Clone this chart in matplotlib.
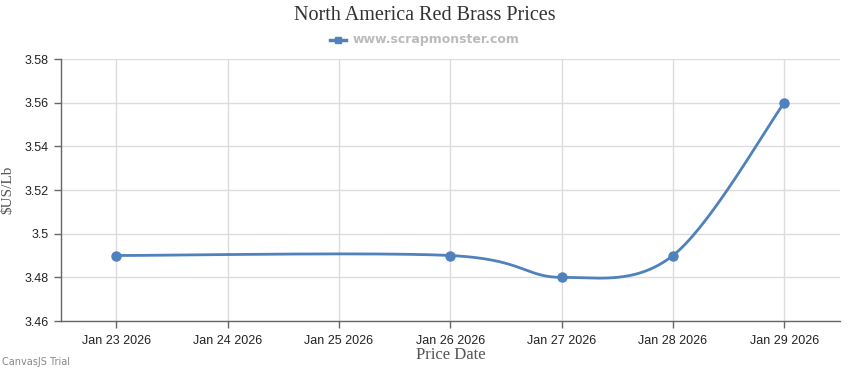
import numpy as np
import matplotlib
matplotlib.use('Agg')
import matplotlib.pyplot as plt
from matplotlib.lines import Line2D

# data
days = [0, 3, 4, 5, 6]  # offset from Jan 23 2026
prices = [3.49, 3.49, 3.48, 3.49, 3.56]
tick_days = [0, 1, 2, 3, 4, 5, 6]
tick_labels = ['Jan 23 2026', 'Jan 24 2026', 'Jan 25 2026', 'Jan 26 2026',
               'Jan 27 2026', 'Jan 28 2026', 'Jan 29 2026']
y_ticks = [3.46, 3.48, 3.50, 3.52, 3.54, 3.56, 3.58]

line_color = '#4F81BC'


def spline(xs, ys, n=60):
    # catmull-rom style bezier through the points, like a canvas spline
    pts = np.column_stack([xs, ys]).astype(float)
    out = []
    last = len(pts) - 1
    for i in range(last):
        p0 = pts[max(i - 1, 0)]
        p1 = pts[i]
        p2 = pts[i + 1]
        p3 = pts[min(i + 2, last)]
        c1 = p1 + (p2 - p0) / 6.0
        c2 = p2 - (p3 - p1) / 6.0
        t = np.linspace(0, 1, n)[:, None]
        seg = ((1 - t) ** 3) * p1 + 3 * ((1 - t) ** 2) * t * c1 + 3 * (1 - t) * t ** 2 * c2 + t ** 3 * p2
        out.append(seg)
    out = np.vstack(out)
    return out[:, 0], out[:, 1]


fig = plt.figure(figsize=(8.5, 3.7), dpi=100)
ax = fig.add_axes([0.0718, 0.1324, 0.9164, 0.7081])

sx, sy = spline(days, prices)
ax.plot(sx, sy, color=line_color, lw=2, zorder=3)
ax.plot(days, prices, 'o', color=line_color, ms=6.5, zorder=4)

ax.set_xlim(-0.495, 6.5)
ax.set_ylim(3.46, 3.58)
ax.set_xticks(tick_days)
ax.set_xticklabels(tick_labels)
ax.set_yticks(y_ticks)
ax.set_yticklabels(['%g' % v for v in y_ticks])

ax.grid(True, color='#dcdcdc', lw=1)
ax.set_axisbelow(True)
for s in ['top', 'right']:
    ax.spines[s].set_visible(False)
for s in ['left', 'bottom']:
    ax.spines[s].set_color('#666666')
    ax.spines[s].set_linewidth(1)
ax.tick_params(axis='both', colors='#666666', length=5, width=1,
               labelcolor='#222222', labelsize=9)
ax.tick_params(axis='x', pad=5)
ax.tick_params(axis='y', pad=4)
for lbl in ax.get_xticklabels() + ax.get_yticklabels():
    lbl.set_family('Liberation Sans')

ax.set_xlabel('Price Date', family='Liberation Serif', fontsize=12, color='#555555', labelpad=0)
ax.set_ylabel('$US/Lb', family='Liberation Serif', fontsize=11, color='#555555')
ax.yaxis.set_label_coords(-0.06, 0.5)

fig.text(0.5, 1 - 16 / 370, 'North America Red Brass Prices', ha='center', va='center',
         family='Liberation Serif', fontsize=14.5, color='#333333')

# legend entry
leg_y = 1 - 40 / 370
fig.add_artist(Line2D([330 / 850, 346 / 850], [leg_y, leg_y], color=line_color, lw=2.5,
                      transform=fig.transFigure))
fig.add_artist(Line2D([338 / 850], [leg_y], color=line_color, marker='s', ms=5,
                      transform=fig.transFigure))
fig.text(353 / 850, leg_y, 'www.scrapmonster.com', ha='left', va='center',
         family='DejaVu Sans', fontsize=9, fontweight='bold', color='#bbbbbb')

fig.text(2 / 850, 1 - 362 / 370, 'CanvasJS Trial', ha='left', va='center',
         family='DejaVu Sans', fontsize=7, color='#888888')

fig.savefig('out.png', dpi=100)
